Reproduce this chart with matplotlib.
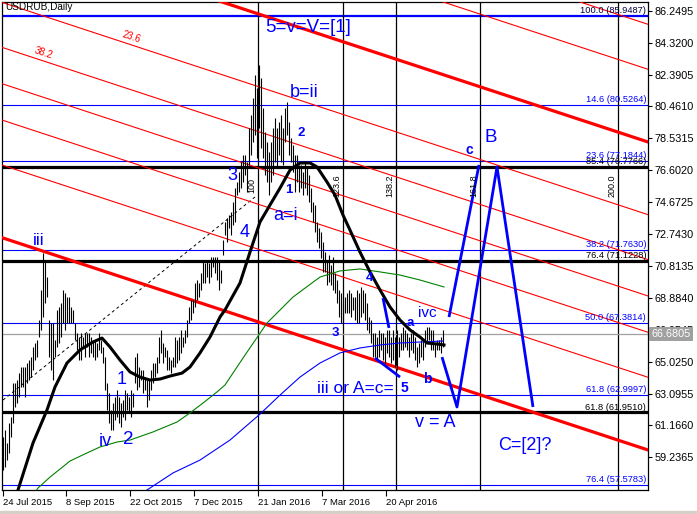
import matplotlib
matplotlib.use('Agg')
import matplotlib.pyplot as plt
from matplotlib.patches import Rectangle
import numpy as np

plt.rcParams['font.family'] = 'Liberation Sans'

BLUE = '#0000ff'
RED = '#ff0000'

# daily bars, high / low (bar index 0 = 24 Jul 2015)
high = [60.46, 60.89, 60.10, 61.31, 61.67, 63.73, 63.73, 63.91, 64.33, 64.70,
        64.70, 64.70, 64.94, 65.12, 65.30, 65.91, 66.15, 66.33, 67.54, 69.36,
        71.59, 71.17, 70.15, 67.54, 67.36, 67.36, 66.33, 68.15, 68.33, 68.57,
        69.36, 69.17, 68.93, 68.93, 68.33, 68.15, 67.36, 66.76, 66.51, 66.76,
        66.51, 66.76, 66.76, 66.76, 66.51, 66.33, 66.33, 66.15, 66.76, 66.33,
        65.91, 65.30, 63.73, 63.12, 62.10, 62.52, 62.88, 63.31, 62.88, 62.52,
        62.70, 63.31, 63.12, 62.88, 63.31, 63.12, 65.30, 65.55, 64.70, 64.52,
        64.52, 64.09, 63.91, 63.91, 64.52, 64.94, 64.94, 65.30, 66.51, 66.94,
        66.15, 65.91, 65.73, 65.30, 65.12, 65.30, 66.51, 66.33, 66.51, 66.94,
        66.51, 66.94, 67.54, 68.33, 68.75, 68.75, 69.78, 69.96, 69.78, 70.38,
        71.17, 70.99, 71.17, 70.99, 71.35, 71.35, 71.35, 71.35, 71.17, 70.57,
        72.38, 73.47, 73.71, 73.89, 74.07, 74.68, 75.52, 75.89, 76.49, 77.10,
        77.52, 77.52, 77.10, 79.15, 79.94, 80.97, 82.36, 81.57, 82.96, 82.18,
        80.36, 78.91, 78.31, 77.70, 78.31, 79.15, 79.76, 79.15, 79.52, 79.94,
        79.15, 80.36, 80.73, 79.52, 78.55, 78.13, 77.52, 77.52, 76.92, 76.92,
        76.49, 77.10, 76.73, 76.31, 75.52, 74.68, 74.50, 73.47, 73.11, 72.86,
        72.26, 71.65, 71.05, 71.47, 70.87, 71.35, 70.38, 69.96, 69.36, 69.17,
        68.57, 68.93, 69.17, 69.36, 69.17, 68.93, 68.93, 69.36, 69.17, 69.54,
        69.36, 69.17, 68.57, 67.72, 67.54, 66.76, 66.76, 66.51, 66.94, 66.76,
        66.76, 66.51, 66.94, 66.94, 66.51, 66.94, 66.51, 66.94, 66.51, 66.76,
        67.12, 66.94, 66.76, 66.51, 66.76, 66.94, 66.51, 65.91, 66.15, 66.33,
        66.33, 66.94, 67.12, 67.12, 66.94, 66.94, 66.15, 66.33, 66.33, 66.51,
        66.94]
low = [58.47, 58.65, 59.07, 59.50, 60.46, 61.31, 62.28, 62.52, 62.88, 63.49,
       63.49, 62.88, 63.73, 63.91, 64.09, 64.52, 65.12, 65.30, 66.51, 66.94,
       67.72, 68.57, 68.93, 65.30, 64.52, 63.91, 65.30, 65.91, 66.15, 66.51,
       67.36, 66.94, 67.36, 67.36, 67.36, 67.36, 66.33, 65.73, 65.12, 65.12,
       65.91, 65.30, 65.91, 65.30, 65.55, 65.30, 65.12, 65.30, 65.73, 65.55,
       64.94, 63.31, 62.10, 61.31, 60.89, 60.89, 61.49, 61.67, 61.31, 61.07,
       61.67, 61.49, 62.10, 61.91, 61.67, 62.28, 63.73, 63.31, 63.49, 63.91,
       63.12, 63.31, 62.28, 62.70, 63.31, 63.73, 64.09, 64.33, 64.94, 65.55,
       64.94, 65.30, 64.52, 64.52, 64.33, 64.70, 64.70, 64.94, 65.12, 65.55,
       65.91, 66.15, 66.51, 67.36, 67.54, 67.97, 68.33, 68.75, 68.93, 69.36,
       69.78, 69.78, 70.15, 69.78, 70.15, 70.75, 70.38, 69.96, 69.36, 69.78,
       71.47, 72.68, 72.26, 73.11, 72.68, 73.29, 73.47, 75.10, 75.28, 75.52,
       75.89, 76.31, 75.28, 76.92, 77.52, 78.31, 78.73, 77.34, 79.15, 77.95,
       77.34, 76.31, 75.89, 75.10, 75.89, 76.31, 77.10, 76.73, 77.52, 77.10,
       76.92, 78.31, 78.73, 77.52, 77.10, 76.49, 75.28, 75.89, 75.28, 75.52,
       75.10, 75.52, 75.10, 74.68, 74.07, 73.47, 72.86, 72.26, 71.89, 71.29,
       70.45, 70.45, 69.66, 69.84, 69.66, 69.36, 69.17, 68.57, 67.72, 67.36,
       67.36, 67.97, 67.97, 67.97, 67.72, 68.15, 67.54, 67.36, 67.36, 67.72,
       67.97, 67.54, 66.94, 66.76, 66.15, 65.30, 65.30, 65.12, 65.30, 65.73,
       65.12, 64.94, 65.55, 65.30, 64.94, 65.12, 64.70, 64.52, 65.30, 65.73,
       65.73, 65.91, 65.73, 65.30, 65.73, 65.55, 65.12, 64.70, 64.94, 65.30,
       65.12, 65.91, 66.15, 66.33, 65.73, 65.73, 65.30, 65.73, 65.73, 65.55,
       65.91]
last_price = 66.6805

# moving averages (bar index, price)
ma_black_x = [5.5, 7.5, 15, 22, 26, 32, 38.5, 45, 49.5, 53.5, 58.5, 63.5, 68.5,
              73.5, 78.5, 83.5, 89.5, 93.5, 98.5, 103.5, 108.5, 111, 118.5,
              123.5, 128.5, 133.5, 138.5, 143.5, 148.5, 153.5, 157, 162, 166,
              170, 173.5, 178.5, 183.5, 188.5, 193.5, 198.5, 203.5, 208.5, 212,
              217, 220.5]
ma_black_y = [56.35, 57.26, 60.10, 62.10, 63.49, 64.94, 65.73, 66.21, 66.45,
              65.91, 65.12, 64.40, 64.09, 63.91, 63.97, 64.15, 64.33, 64.70,
              65.55, 66.51, 67.72, 68.15, 69.78, 71.65, 73.47, 74.50, 75.52,
              76.61, 77.04, 77.04, 76.80, 75.89, 75.10, 73.89, 72.98, 71.65,
              70.45, 69.36, 68.33, 67.54, 66.94, 66.51, 66.15, 66.09, 66.03]
ma_green_x = [13.5, 17.5, 23.5, 33.5, 42, 48.5, 57, 63.5, 75, 87, 93.5, 100,
              107, 111, 121, 132, 145, 158.5, 168.5, 178.5, 188.5, 198.5,
              208.5, 220.5]
ma_green_y = [56.65, 57.38, 58.04, 59.01, 59.50, 59.86, 60.16, 60.28, 60.77,
              61.37, 61.92, 62.52, 63.19, 63.61, 65.42, 67.36, 68.93, 70.14,
              70.51, 70.63, 70.45, 70.26, 69.96, 69.54]
ma_blue_x = [66, 72, 85, 98.5, 113.5, 128.5, 138.5, 148.5, 158.5, 168.5, 178.5,
             188.5, 198.5, 208.5, 220]
ma_blue_y = [56.78, 57.26, 58.29, 59.07, 60.28, 61.85, 63.00, 64.09, 64.94,
             65.55, 65.85, 66.03, 66.15, 66.21, 66.27]

# fibonacci retracement levels
lvl_blue = [85.9487, 80.5264, 77.1844, 71.7630, 67.3814, 62.9997, 57.5783]
lvl_blue_txt = ['100.0 (85.9487)', '14.6 (80.5264)', '23.6 (77.1844)',
                '38.2 (71.7630)', '50.0 (67.3814)', '61.8 (62.9997)',
                '76.4 (57.5783)']
lvl_black = [76.7766, 71.1228, 61.9510]
lvl_black_txt = ['85.4 (76.7766)', '76.4 (71.1228)', '61.8 (61.9510)']

# fibonacci channel: top and bottom base lines, levels between/outside
chan_x = [-0.5, 322.5]
chan_top = [91.15, 78.31]
chan_bot = [72.52, 59.68]
chan_levels = [-0.382, -0.236, 0.236, 0.382, 0.5, 0.618, 0.764]

# fibonacci time zones
tz_levels = ['100', '123.6', '138.2', '161.8', '200.0']
tz_bars = [127.5, 170, 196.5, 238.5, 307.5]
tz_line_x = [0, 126]
tz_line_y = [62.70, 74.98]

# hand-drawn wave lines
wave_a_x, wave_a_y = [190, 193], [68.87, 67.06]
wave_b_x, wave_b_y = [186, 198.5], [65.24, 64.09]
proj1_x, proj1_y = [223, 238], [67.72, 76.92]
proj2_x = [219.5, 227, 247, 265]
proj2_y = [65.30, 62.28, 76.80, 62.28]

x_ticks = [0, 31.5, 63.5, 95.5, 127.5, 159.5, 191.5]
x_labels = ['24 Jul 2015', '8 Sep 2015', '22 Oct 2015', '7 Dec 2015',
            '21 Jan 2016', '7 Mar 2016', '20 Apr 2016']
y_ticks = [59.2365, 61.1660, 63.0955, 65.0250, 66.9545, 68.8840, 70.8135,
           72.7430, 74.6725, 76.6020, 78.5315, 80.4610, 82.3905, 84.3200,
           86.2495]

fig = plt.figure(figsize=(6.97, 5.14), dpi=100)
ax = fig.add_axes([2 / 697, 24 / 514, 646 / 697, 488 / 514])
ax.set_xlim(-0.5, 322.5)
ax.set_ylim(57.259, 86.776)

# levels
for i, (v, t) in enumerate(zip(lvl_blue, lvl_blue_txt)):
    ax.axhline(v, color=BLUE, lw=1.6 if i == 0 else 0.8, zorder=2)
    ax.text(321.5, v + 0.05, t, color=BLUE if i else '#000040', fontsize=6.7,
            ha='right', va='bottom', zorder=6)
for v, t in zip(lvl_black, lvl_black_txt):
    ax.axhline(v, color='black', lw=2.3, zorder=2)
    ax.text(321.5, v + 0.05, t, color='black', fontsize=6.7,
            ha='right', va='bottom', zorder=6)

# channel
ax.plot(chan_x, chan_top, color=RED, lw=2.3, zorder=3)
ax.plot(chan_x, chan_bot, color=RED, lw=2.3, zorder=3)
for f in chan_levels:
    yy = [t + f * (b - t) for t, b in zip(chan_top, chan_bot)]
    ax.plot(chan_x, yy, color=RED, lw=0.8, zorder=3)
ax.text(64, 84.66, '23.6', color=RED, fontsize=7, rotation=-18,
        ha='center', va='center')
ax.text(20.5, 83.69, '38.2', color=RED, fontsize=7, rotation=-18,
        ha='center', va='center')

# time zones
for t, b in zip(tz_levels, tz_bars):
    ax.axvline(b, color='black', lw=0.9, zorder=2)
    ax.text(b - 3, 75.65, t, rotation=90, fontsize=6.5, ha='center',
            va='center', zorder=6)
ax.plot(tz_line_x, tz_line_y, color='black', lw=0.7, ls=(0, (3, 3)), zorder=2)

# current price line
ax.axhline(last_price, color='#a0a0a0', lw=0.9, zorder=2)

# bars
idx = np.arange(len(high))
ax.vlines(idx, low, high, color='black', lw=0.8, zorder=4)

# moving averages
ax.plot(ma_green_x, ma_green_y, color='#008000', lw=0.8, zorder=4)
ax.plot(ma_blue_x, ma_blue_y, color=BLUE, lw=0.8, zorder=4)
ax.plot(ma_black_x, ma_black_y, color='black', lw=2.2, zorder=5)

# wave drawings
for xs, ys in [(wave_a_x, wave_a_y), (wave_b_x, wave_b_y),
               (proj1_x, proj1_y), (proj2_x, proj2_y)]:
    ax.plot(xs, ys, color=BLUE, lw=2.0, zorder=5, solid_capstyle='butt')

labels = [
    ('5=v=V=[1]', 152.5, 85.26, 13.5, 'normal'),
    ('b=ii', 150.5, 81.33, 13, 'normal'),
    ('2', 149, 78.85, 9.5, 'bold'),
    ('3', 114.5, 76.31, 13, 'normal'),
    ('1', 143, 75.39, 9.5, 'bold'),
    ('a=i', 141.5, 73.89, 13, 'normal'),
    ('4', 121, 72.86, 13, 'normal'),
    ('iii', 18, 72.32, 12.5, 'normal'),
    ('1', 59.5, 63.97, 13, 'normal'),
    ('iv', 51, 60.22, 13, 'normal'),
    ('2', 62.5, 60.34, 13.5, 'normal'),
    ('3', 166, 66.76, 9.5, 'bold'),
    ('4', 183, 70.08, 9.5, 'bold'),
    ('a', 203.5, 67.36, 9.5, 'bold'),
    ('ivc', 212, 67.97, 11, 'normal'),
    ('5', 200.5, 63.43, 10, 'bold'),
    ('b', 212, 63.97, 10, 'bold'),
    ('v = A', 216, 61.37, 13, 'normal'),
    ('c', 233, 77.82, 10, 'bold'),
    ('B', 244, 78.55, 13.5, 'normal'),
    ('C=[2]?', 261, 59.98, 13, 'normal'),
]
for t, x, y, s, w in labels:
    ax.text(x, y, t, color=BLUE, fontsize=s, fontweight=w, ha='center',
            va='center', zorder=7)
ax.text(157, 63.37, 'iii or A=c=', color=BLUE, fontsize=12.5, ha='left',
        va='center', zorder=7)

# axes styling
for sp in ax.spines.values():
    sp.set_color('black')
    sp.set_linewidth(0.9)
ax.yaxis.tick_right()
ax.set_yticks(y_ticks)
ax.set_yticklabels(['%.4f' % v for v in y_ticks])
ax.tick_params(axis='y', direction='out', length=3, width=0.8, pad=2,
               labelsize=7.8)
ax.set_xticks(x_ticks)
ax.set_xticklabels(x_labels, ha='left')
ax.tick_params(axis='x', direction='out', length=4, width=0.8, pad=2,
               labelsize=6.8)

ax.text(1.005, last_price, '%.4f' % last_price, transform=ax.get_yaxis_transform(),
        color='white', fontsize=7.8, ha='left', va='center', zorder=10,
        clip_on=False,
        bbox=dict(boxstyle='square,pad=0.2', fc='#a0a0a0', ec='none'))

fig.text(5 / 697, 1 - 2 / 514, 'USDRUB,Daily', fontsize=7.2, ha='left', va='top')
fig.patches.append(Rectangle((0, 0), 1, 3 / 514, transform=fig.transFigure,
                             color='#d4d0c8', zorder=0))

fig.savefig('out.png', dpi=100)
